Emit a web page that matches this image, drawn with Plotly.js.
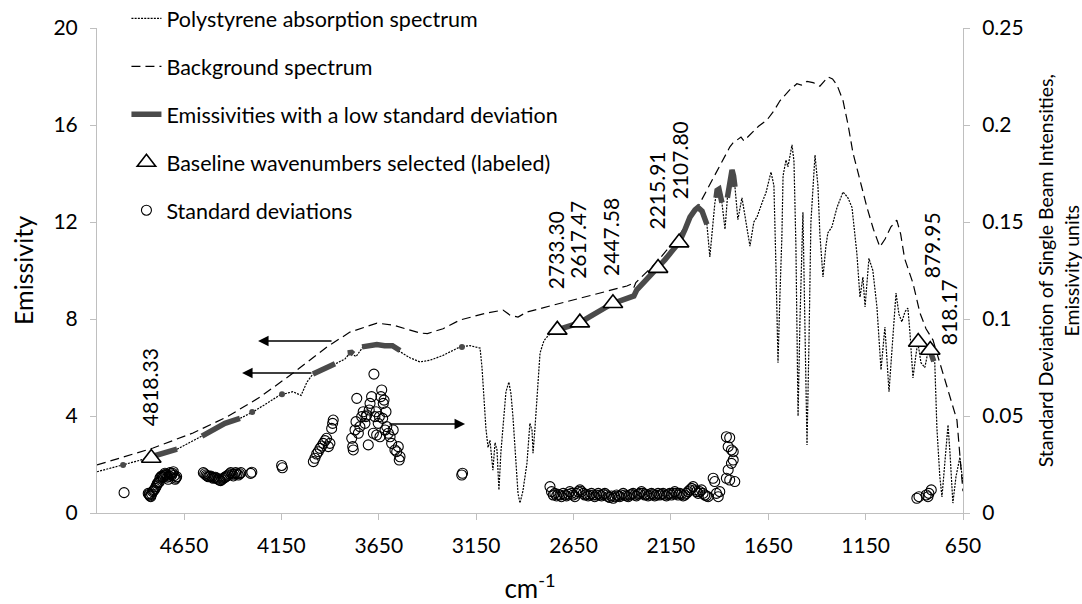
<!DOCTYPE html>
<html>
<head>
<meta charset="utf-8">
<script src="https://cdn.plot.ly/plotly-3.0.1.min.js"></script>
<style>html,body{margin:0;padding:0;background:#fff;}#chart{width:1082px;height:604px;}</style>
</head>
<body>
<div id="chart"></div>
<script>
// ---------------- DATA ----------------
const xTicks = [4650, 4150, 3650, 3150, 2650, 2150, 1650, 1150, 650];
const yTicksLeft = [0, 4, 8, 12, 16, 20];
const yTicksRight = [0, 0.05, 0.1, 0.15, 0.2, 0.25];
const yTicksRightText = ['0', '0.05', '0.1', '0.15', '0.2', '0.25'];

// Polystyrene absorption spectrum (wavenumber, emissivity)
const polyWn = [5097,4963,4809,4686,4568,4481,4363,4296,4219,4157,4091,4065,4049,4019,3988,3885,3824,3798,3767,3731,3670,3592,3541,3490,3438,3387,3320,3233,3182,3146,3130,3120,3110,3100,3089,3079,3064,3053,3043,3033,3023,3012,2997,2982,2971,2961,2946,2935,2925,2910,2889,2874,2863,2858,2848,2838,2822,2802,2786,2761,2733,2694,2658,2617,2566,2514,2448,2411,2376,2360,2340,2325,2283,2258,2216,2180,2144,2108,2077,2052,2026,2011,1990,1975,1965,1950,1934,1924,1913,1903,1888,1872,1857,1836,1821,1806,1785,1770,1744,1724,1708,1677,1662,1636,1621,1610,1600,1590,1580,1574,1559,1549,1528,1518,1508,1497,1487,1472,1462,1451,1441,1431,1410,1395,1385,1369,1354,1344,1323,1297,1266,1241,1220,1195,1179,1164,1153,1133,1113,1092,1071,1051,1030,1010,994,979,964,948,933,923,907,892,882,866,846,831,820,805,795,784,769,758,743,727,717,702,686,666,650];
const polyEm = [1.7,1.98,2.32,2.63,3.13,3.5,3.9,4.17,4.55,4.87,5.0,4.9,4.85,5.4,5.73,6.1,6.35,6.6,6.45,6.85,6.92,6.9,6.64,6.4,6.23,6.3,6.5,6.85,6.9,6.85,6.8,6.0,4.6,3.5,2.7,3.0,1.77,2.9,2.6,0.95,2.5,3.7,5.0,5.4,4.9,3.96,2.0,0.8,0.41,0.9,2.06,3.7,3.4,2.47,3.5,4.78,6.6,7.1,7.26,7.45,7.55,7.65,7.75,7.85,8.1,8.35,8.65,8.75,8.85,8.9,8.95,9.2,9.55,9.8,10.1,10.45,10.8,11.15,11.7,12.2,12.5,12.6,12.45,12.1,11.9,10.56,11.8,12.8,13.3,13.35,12.8,11.7,13.3,14.15,13.45,12.1,13.0,12.3,11.0,12.0,12.2,12.9,13.2,14.06,13.5,10.0,6.2,9.0,11.4,13.9,14.56,14.27,15.18,14.5,11.0,4.0,8.0,12.4,8.0,2.8,7.0,12.0,14.76,13.5,11.5,9.73,11.0,11.55,11.8,12.6,13.24,13.0,12.6,10.7,8.9,9.73,8.5,10.5,10.0,8.5,5.9,7.67,5.0,7.5,9.07,8.2,7.88,8.3,8.45,7.5,5.57,6.5,7.05,6.2,6.0,6.6,6.72,6.3,6.2,3.5,1.5,0.66,2.0,3.63,2.5,0.41,1.5,2.3,1.2];

// Background spectrum
const bgWn = [5097,4809,4604,4430,4260,4090,3916,3798,3659,3577,3438,3400,3320,3233,3094,3012,2976,2935,2889,2786,2617,2447,2376,2350,2340,2330,2222,2103,2001,1900,1847,1831,1790,1775,1744,1700,1657,1620,1590,1540,1503,1480,1451,1420,1385,1343,1320,1297,1266,1240,1215,1180,1143,1110,1077,1050,1020,990,970,950,907,871,840,804,770,733,681,660,650];
const bgEm = [1.98,2.68,3.3,3.96,4.78,5.77,6.85,7.46,7.83,7.75,7.42,7.4,7.6,7.96,8.25,8.37,8.16,8.08,8.29,8.5,8.87,9.2,9.36,9.45,9.3,9.5,10.35,11.5,12.78,14.3,15.1,15.26,15.5,15.35,15.6,15.95,16.2,16.6,17.0,17.45,17.7,17.65,17.8,17.75,17.6,17.98,17.9,17.65,17.0,16.0,14.85,13.7,12.6,11.7,10.97,11.3,11.8,12.08,11.5,10.5,9.48,8.25,7.6,7.13,6.2,5.2,3.83,1.8,0.9];

// Emissivities with a low standard deviation (segments separated by null)
const lowSdWn = [4818,4770,4720,4686,null,4558,4500,4440,4363,null,3988,3940,3900,3875,null,3810,3790,3780,null,3736,3700,3660,3620,3580,3541,null,2733,2694,2658,2617,2566,2514,2448,2411,2376,2360,2340,2325,2283,2258,2216,2180,2144,2108,2077,2052,2026,2011,1990,1975,1965,null,1918,1913,1903,1895,1888,null,1860,1850,1836,1828,1821,null,820,810,800];
const lowSdEm = [2.32,2.42,2.55,2.63,null,3.17,3.45,3.7,3.9,null,5.73,5.9,6.03,6.15,null,6.6,6.62,6.55,null,6.85,6.92,6.95,6.9,6.9,6.7,null,7.55,7.65,7.75,7.85,8.1,8.35,8.65,8.75,8.85,8.9,8.95,9.2,9.55,9.8,10.1,10.45,10.8,11.15,11.7,12.2,12.5,12.6,12.45,12.1,11.9,null,13.0,13.3,13.35,13.1,12.8,null,13.0,13.6,14.15,13.9,13.45,null,6.72,6.5,6.25];
const lowSdDotWn = [4963, 4300, 4147, 3223];
const lowSdDotEm = [1.98, 4.17, 4.9, 6.85];

// Baseline wavenumbers selected (labeled)
const baseWn = [4818.33, 2733.30, 2617.47, 2447.58, 2215.91, 2107.80, 879.95, 818.17];
const baseEm = [2.27, 7.55, 7.85, 8.65, 10.1, 11.15, 7.05, 6.72];
const baseLabels = ['4818.33', '2733.30', '2617.47', '2447.58', '2215.91', '2107.80', '879.95', '818.17'];

// Standard deviations (right axis)
const sdWn = [4958,
 4834,4830,4828,4824,4821,4816,4811,4807,4803,4798,4794,4790,4787,4782,4777,4774,4770,4765,4761,4757,4752,4748,4744,4739,4735,4731,4726,4722,4718,4713,4709,4705,4700,4696,4692,4688,
 4551,4544,4537,4531,4525,4519,4513,4506,4500,4494,4488,4481,4474,4468,4462,4455,4448,4442,4436,4430,4423,4416,4410,4403,4397,4391,4385,4378,4371,4364,4358,
 4308,4302,4149,4145,
 3986,3978,3969,3961,3952,3943,3935,3926,3918,3909,3901,3892,3884,3887,
 3789,3784,3781,3772,3767,3763,3755,3747,3738,3730,3721,3716,3712,3704,3699,3695,3687,3678,3675,3670,3664,3661,3653,3647,3644,3639,3635,3630,3627,3623,3618,3613,3609,3601,3592,3584,3576,3567,3558,3550,3545,3541,
 3224,3220,
 2771,2763,2754,2746,2737,2729,2720,2712,2703,2694,2686,2677,2669,2660,2652,2643,2635,2626,2617,2609,2600,2592,2583,2575,2566,2558,2549,2541,2532,2523,2515,2506,2498,2489,2481,2472,2464,2455,2446,2438,2429,2421,2412,2404,2395,2387,2378,2369,2361,2352,2344,2335,2327,2318,2310,2301,2293,2284,2275,2267,2258,2250,2241,2233,2224,2216,2207,2198,2190,2181,2173,2164,2156,2147,2139,2130,2121,2113,2104,2096,2087,2079,2070,2062,2053,2044,2036,2027,2019,2010,2002,1993,1985,1976,1968,1959,
 1933,1925,1916,1907,1899,1865,1856,1848,1839,1830,1856,1848,1822,1865,1839,1830,
 887,876,839,830,825,813];
const sdVal = [0.0105,
 0.0101,0.0097,0.0093,0.0088,0.0084,0.0097,0.011,0.0115,0.0119,0.0127,0.0136,0.0144,0.0153,0.0157,0.0161,0.0179,0.0185,0.0191,0.0188,0.0184,0.0195,0.0205,0.0200,0.0196,0.0185,0.0174,0.0190,0.0208,0.0202,0.0196,0.0205,0.0213,0.0193,0.0174,0.0180,0.0187,
 0.0208,0.0202,0.0196,0.0191,0.0187,0.0189,0.0191,0.0185,0.0179,0.0182,0.0184,0.0179,0.0174,0.0170,0.0167,0.0173,0.0179,0.0183,0.0187,0.0191,0.0196,0.0202,0.0208,0.0200,0.0191,0.0200,0.0208,0.0202,0.0196,0.0202,0.0208,
 0.0204,0.0210,0.0245,0.0233,
 0.0265,0.0282,0.0304,0.0316,0.0333,0.0345,0.0359,0.0373,0.0385,0.0342,0.0359,0.0436,0.0479,0.0462,
 0.0385,0.0342,0.0325,0.0428,0.0471,0.0591,0.0411,0.0445,0.0497,0.0522,0.0462,0.0497,0.0505,0.0351,0.0531,0.0565,0.06,0.0411,0.0716,0.0497,0.0522,0.0402,0.0462,0.0497,0.0393,0.06,0.0634,0.0488,0.0565,0.0582,0.0428,0.0522,0.0445,0.0411,0.0393,0.0359,0.0428,0.0325,0.0316,0.0342,0.0273,0.029,
 0.0196,0.0205,
 0.0136,0.0110,0.0093,0.0101,0.0088,0.0097,0.0093,0.0084,0.0101,0.0093,
 0.0088,0.0097,0.0110,0.0101,0.0093,0.0084,0.0101,0.0110,0.0119,0.0110,
 0.0101,0.0093,0.0097,0.0088,0.0093,0.0101,0.0093,0.0084,0.0093,0.0101,
 0.0093,0.0088,0.0097,0.0101,0.0093,0.0084,0.0080,0.0088,0.0076,0.0084,
 0.0093,0.0088,0.0084,0.0093,0.0101,0.0093,0.0088,0.0084,0.0093,0.0097,
 0.0101,0.0093,0.0088,0.0097,0.0101,0.0110,0.0101,0.0093,0.0097,0.0088,
 0.0093,0.0101,0.0097,0.0088,0.0093,0.0101,0.0093,0.0097,0.0101,0.0093,
 0.0088,0.0097,0.0101,0.0093,0.0101,0.0110,0.0101,0.0093,0.0101,0.0097,
 0.0088,0.0093,0.0101,0.0110,0.0119,0.0127,0.0136,0.0119,0.0110,0.0101,
 0.0110,0.0119,0.0101,0.0093,0.0088,0.0084,
 0.0179,0.0162,0.0101,0.0084,0.011,0.0393,0.0342,0.0388,0.0325,0.0273,0.0222,0.017,0.0162,0.0179,0.0256,0.0316,
 0.0076,0.0084,0.0093,0.0084,0.0101,0.0119];

// ---------------- LAYOUT HELPERS ----------------
// label placement (y in emissivity units, pixel x shift) for baseline labels
const labelPlace = [[5.2,-1],[10.85,-1],[11.26,-2],[11.38,-3],[13.3,-2],[14.55,0],[11.05,13],[8.29,19]];
// arrows: [tail x, head x, y]
const arrowPlace = [[3885,4270,7.09],[3988,4352,5.77],[3603,3207,3.67]];

const FONT = 'Lato, "Open Sans", sans-serif';

const traces = [
  {x: polyWn, y: polyEm, type:'scatter', mode:'lines', name:'Polystyrene absorption spectrum',
   line:{color:'#000', width:1.2, dash:'2px,1.2px'}, legendgroup:'a'},
  {x: bgWn, y: bgEm, type:'scatter', mode:'lines', name:'Background spectrum',
   line:{color:'#000', width:1.2, dash:'9px,5px'}, legendgroup:'b'},
  {x: lowSdWn, y: lowSdEm, type:'scatter', mode:'lines', name:'Emissivities with a low standard deviation',
   line:{color:'#4a4a4a', width:5.5}, connectgaps:false, legendgroup:'c'},
  {x: lowSdDotWn, y: lowSdDotEm, type:'scatter', mode:'markers', showlegend:false,
   marker:{color:'#4a4a4a', size:6}, legendgroup:'c'},
  {x: baseWn, y: baseEm, type:'scatter', mode:'markers', name:'Baseline wavenumbers selected (labeled)',
   marker:{symbol:'triangle-up', size:17, color:'#fff', line:{color:'#000', width:1.6}}, legendgroup:'d'},
  {x: sdWn, y: sdVal, type:'scatter', mode:'markers', name:'Standard deviations', yaxis:'y2',
   marker:{symbol:'circle-open', size:10, color:'#000', line:{width:1.1}}, legendgroup:'e'}
];

const annotations = [];
baseWn.forEach((w, i) => {
  annotations.push({x: w, y: labelPlace[i][0], xref:'x', yref:'y', text: baseLabels[i],
    textangle:-90, showarrow:false, xshift: labelPlace[i][1], font:{family:FONT, size:21, color:'#000'}});
});
arrowPlace.forEach(a => {
  annotations.push({x: a[1], y: a[2], ax: a[0], ay: a[2], xref:'x', yref:'y', axref:'x', ayref:'y',
    text:'', showarrow:true, arrowhead:2, arrowsize:1.4, arrowwidth:1.5, arrowcolor:'#000'});
});
annotations.push({xref:'paper', yref:'paper', x:1.1095, y:0.5, xanchor:'center', yanchor:'middle',
  text:'Standard Deviation of Single Beam Intensities,<br>Emissivity units', textangle:-90, showarrow:false,
  font:{family:FONT, size:19.5, color:'#000'}});

const axisCommon = {showgrid:false, zeroline:false, showline:true, linecolor:'#bfbfbf', linewidth:1,
  ticks:'outside', ticklen:6, tickcolor:'#bfbfbf', tickfont:{family:FONT, size:21, color:'#000'}};

const layout = {
  width:1082, height:604,
  margin:{l:97, r:119, t:28, b:91, autoexpand:false},
  paper_bgcolor:'#fff', plot_bgcolor:'#fff',
  font:{family:FONT, size:21, color:'#000'},
  showlegend:true,
  legend:{x:0.034, xanchor:'left', y:1.062, yanchor:'top', bgcolor:'rgba(0,0,0,0)',
    font:{family:FONT, size:21.5, color:'#000'}, traceorder:'grouped', tracegroupgap:17, itemwidth:30},
  xaxis: Object.assign({}, axisCommon, {range:[5097, 650], tickvals:xTicks, ticklabelstandoff:8,
    title:{text:'cm<sup>-1</sup>', font:{family:FONT, size:26, color:'#000'}, standoff:23}}),
  yaxis: Object.assign({}, axisCommon, {range:[0, 20], tickvals:yTicksLeft, ticklabelstandoff:8,
    title:{text:'Emissivity', font:{family:FONT, size:25, color:'#000'}, standoff:12}}),
  yaxis2: Object.assign({}, axisCommon, {range:[0, 0.25], tickvals:yTicksRight, ticktext:yTicksRightText,
    overlaying:'y', side:'right', ticklabelstandoff:8}),
  annotations: annotations
};

Plotly.newPlot('chart', traces, layout, {displayModeBar:false, staticPlot:true});
</script>
</body>
</html>
